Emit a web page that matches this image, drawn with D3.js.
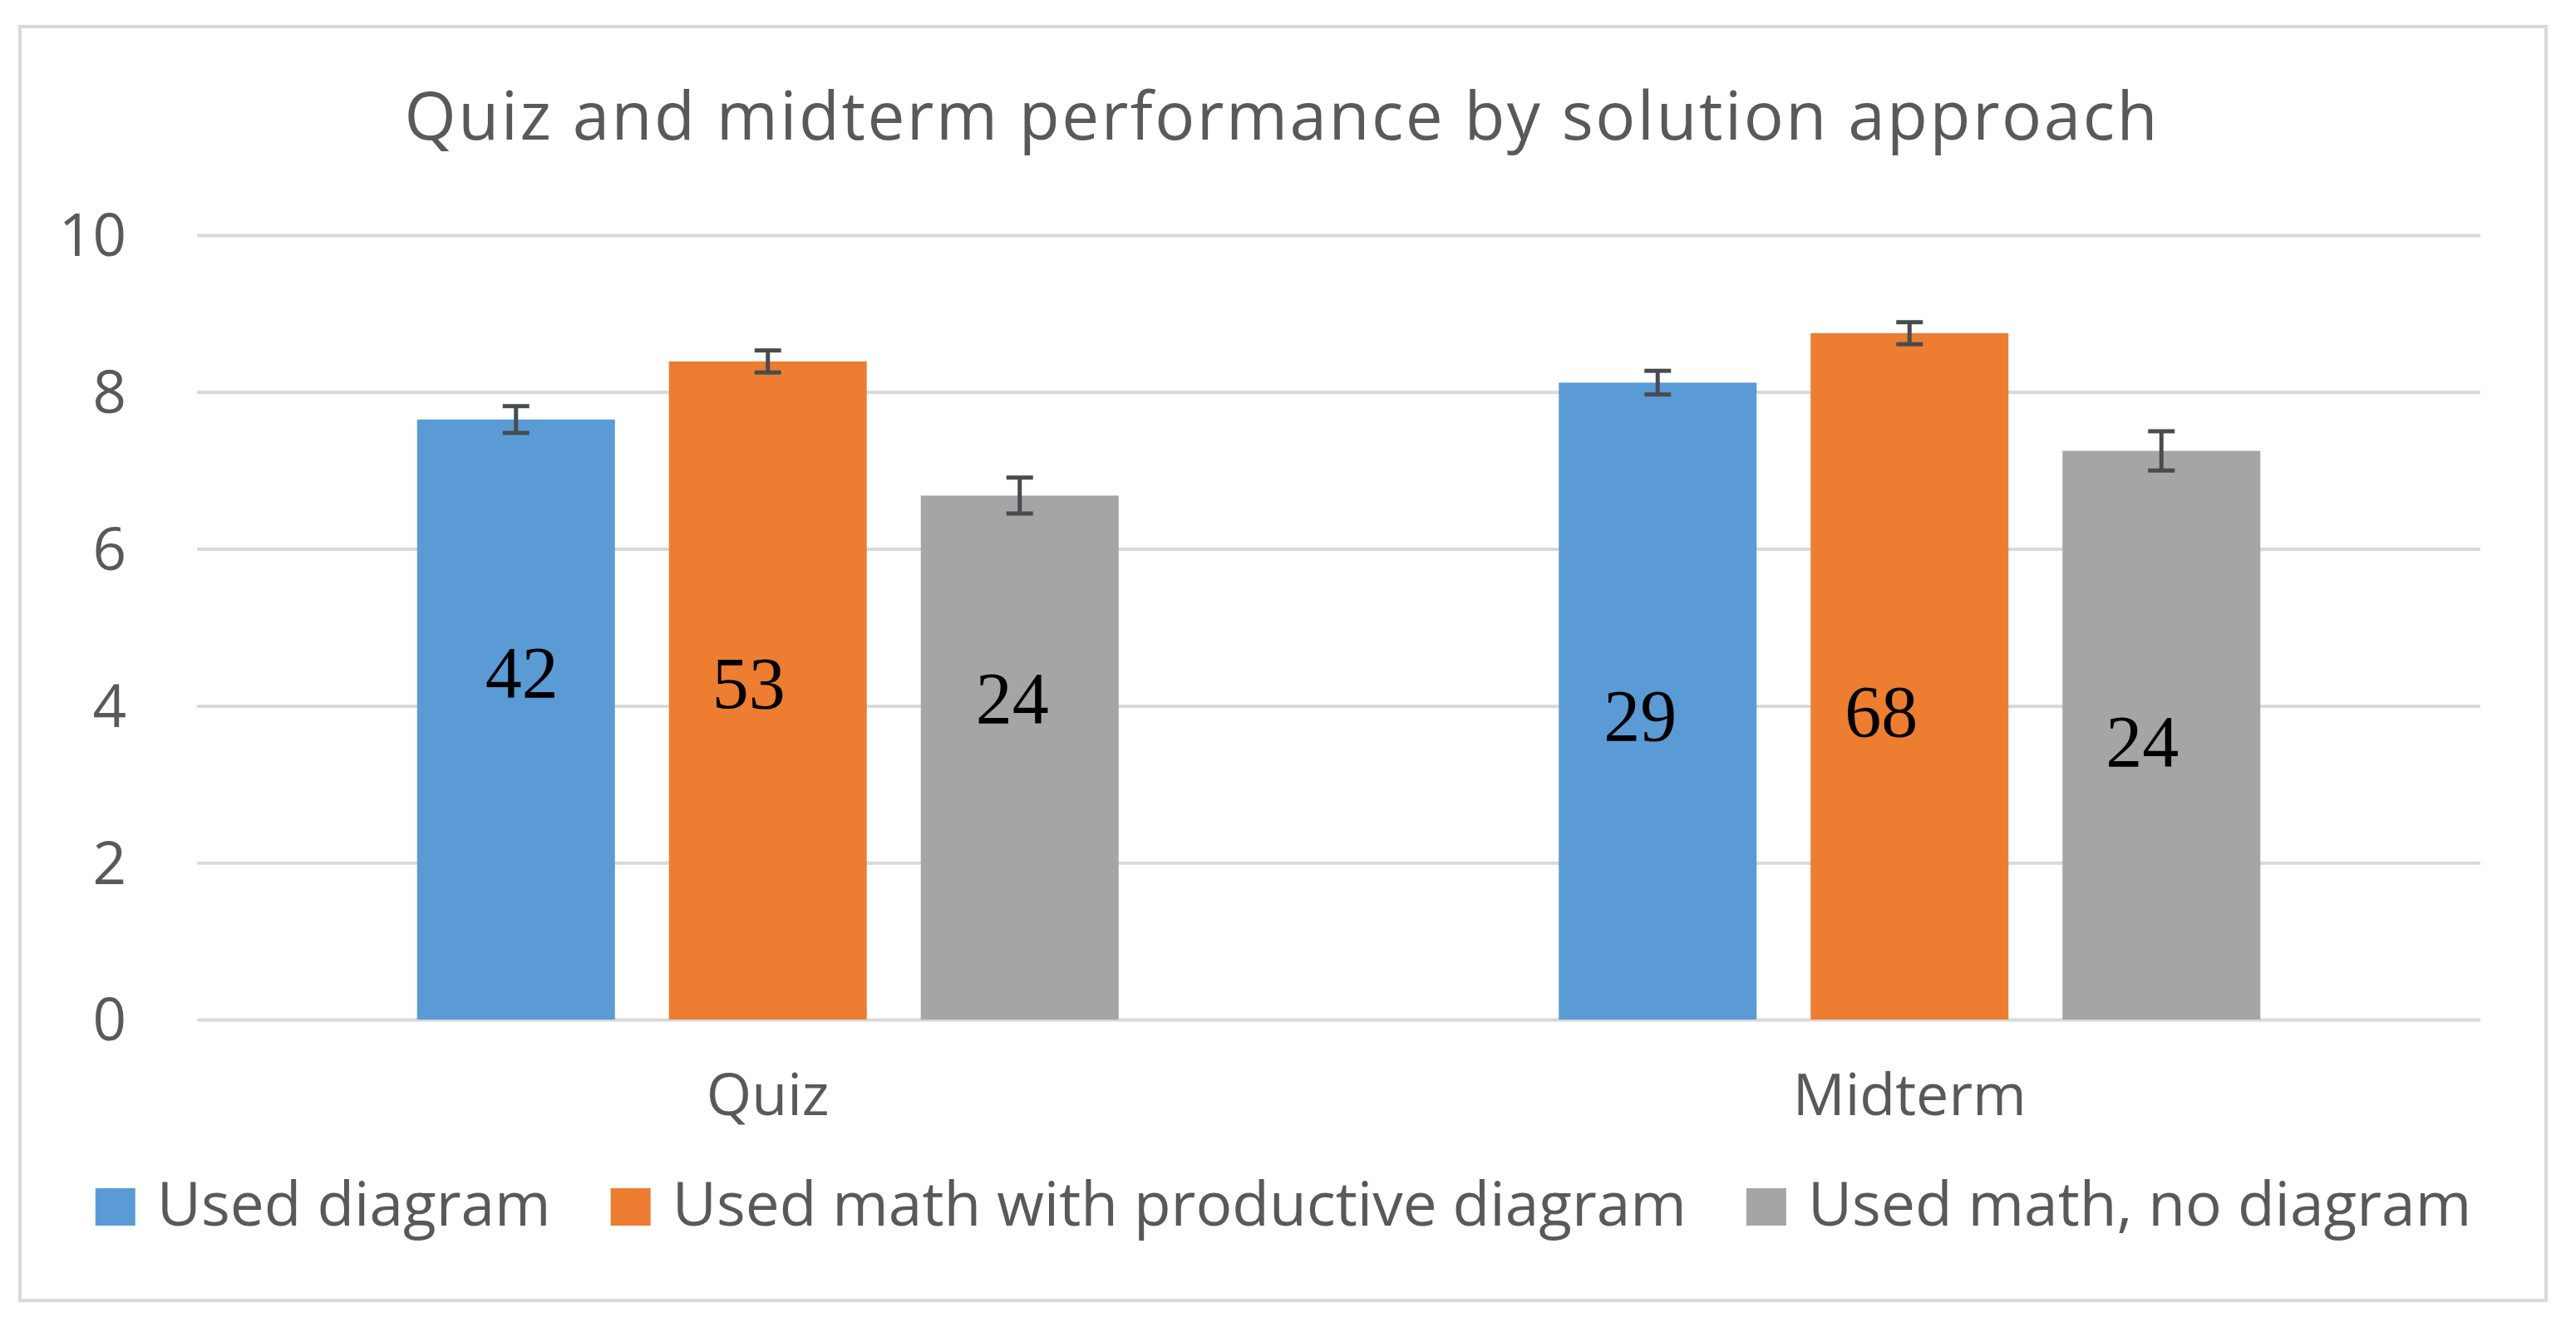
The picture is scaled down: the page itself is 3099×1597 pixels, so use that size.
<!DOCTYPE html>
<html><head><meta charset="utf-8">
<script src="https://cdn.jsdelivr.net/npm/d3@7"></script>
<style>body{margin:0;background:#fff} svg{display:block}</style>
</head><body>
<svg id="c" width="3099" height="1597"></svg>
<script>
// ---- data ----
const categories = ["Quiz", "Midterm"];
const seriesNames = ["Used diagram", "Used math with productive diagram", "Used math, no diagram"];
const quizMeans = [7.65, 8.39, 6.68];
const midtermMeans = [8.12, 8.75, 7.25];
const quizErrors = [0.17, 0.14, 0.23];
const midtermErrors = [0.15, 0.14, 0.25];
const quizCounts = [42, 53, 24];
const midtermCounts = [29, 68, 24];
const yTicks = [0, 2, 4, 6, 8, 10];
const titleText = "Quiz and midterm performance by solution approach";

// ---- layout / style ----
const colors = ["#5b9bd5", "#ed7d31", "#a5a5a5"];
const W = 3099, H = 1597;
const plot = {left: 237, right: 2984, top: 283, bottom: 1227};
// hand-placed annotation offsets (value units, px) as in the original
const labelAt = [[4.11, 7], [3.97, -23], [3.78, -9], [3.56, -21], [3.61, -34], [3.23, -23]];
const font = "'Open Sans', 'Segoe UI', sans-serif";
const txt = "#595959";

const svg = d3.select("#c");
svg.append("rect").attr("x", 24).attr("y", 32).attr("width", 3039).attr("height", 1533)
  .attr("fill", "#fff").attr("stroke", "#d9d9d9").attr("stroke-width", 4);

const x0 = d3.scaleBand().domain(categories).range([plot.left, plot.right]).padding(0);
const groupW = 844;
const x1 = d3.scaleBand().domain(d3.range(3)).range([0, groupW]).paddingInner(0.2145).paddingOuter(0);
const y = d3.scaleLinear().domain([0, 10]).range([plot.bottom, plot.top]);

// grid + y axis
const yAxis = d3.axisLeft(y).tickValues(yTicks).tickSize(-(plot.right - plot.left)).tickPadding(85).tickFormat(d3.format("d"));
const ga = svg.append("g").attr("transform", `translate(${plot.left},0)`).call(yAxis);
ga.select(".domain").remove();
ga.selectAll(".tick line").attr("stroke", "#d9d9d9").attr("stroke-width", 4);
ga.selectAll(".tick text").attr("font-family", font).attr("font-size", 71).attr("fill", txt).attr("dy", "0.35em");

const rows = categories.map((c, ci) => ({
  cat: c,
  means: ci === 0 ? quizMeans : midtermMeans,
  errs: ci === 0 ? quizErrors : midtermErrors,
  counts: ci === 0 ? quizCounts : midtermCounts
}));

rows.forEach((r, ci) => {
  const gx = x0(r.cat) + (x0.bandwidth() - groupW) / 2;
  const g = svg.append("g").attr("transform", `translate(${gx},0)`);
  r.means.forEach((m, si) => {
    const bx = x1(si), bw = x1.bandwidth(), cx = bx + bw / 2;
    g.append("rect").attr("x", bx).attr("y", y(m)).attr("width", bw).attr("height", y(0) - y(m)).attr("fill", colors[si]);
    const e = r.errs[si];
    const eg = g.append("g").attr("stroke", "#474c50").attr("stroke-width", 5);
    eg.append("line").attr("x1", cx).attr("x2", cx).attr("y1", y(m + e)).attr("y2", y(m - e));
    eg.append("line").attr("x1", cx - 16).attr("x2", cx + 16).attr("y1", y(m + e)).attr("y2", y(m + e));
    eg.append("line").attr("x1", cx - 16).attr("x2", cx + 16).attr("y1", y(m - e)).attr("y2", y(m - e));
    const la = labelAt[ci * 3 + si];
    g.append("text").attr("x", cx + la[1]).attr("y", y(la[0])).attr("text-anchor", "middle")
      .attr("font-family", "'Liberation Serif', 'Times New Roman', serif").attr("font-size", 88).attr("fill", "#000")
      .text(r.counts[si]);
  });
});

// x axis category labels
svg.append("g").selectAll("text").data(categories).join("text")
  .attr("x", d => x0(d) + x0.bandwidth() / 2).attr("y", 1342).attr("text-anchor", "middle")
  .attr("font-family", font).attr("font-size", 70).attr("fill", txt).text(d => d);

// title
svg.append("text").attr("x", 1541).attr("y", 168).attr("text-anchor", "middle")
  .attr("font-family", font).attr("font-size", 80).attr("fill", txt)
  .attr("textLength", 2109).attr("lengthAdjust", "spacing").text(titleText);

// legend
const lg = svg.append("g");
let cur = 0;
seriesNames.forEach((n, i) => {
  const item = lg.append("g").attr("transform", `translate(${cur},0)`);
  item.append("rect").attr("x", 0).attr("y", 1430).attr("width", 48).attr("height", 45).attr("fill", colors[i]);
  const t = item.append("text").attr("x", 74).attr("y", 1475).attr("font-family", font).attr("font-size", 73).attr("fill", txt).text(n);
  cur += 74 + t.node().getComputedTextLength() + 72;
});
const total = cur - 72;
lg.attr("transform", `translate(${1544 - total / 2},0)`);
</script>
</body></html>
